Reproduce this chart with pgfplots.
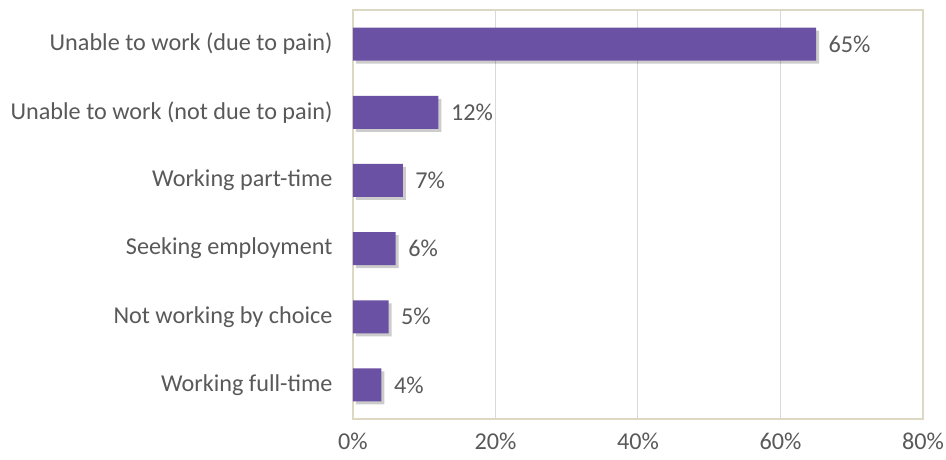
\documentclass[border=0pt]{standalone}
\usepackage{pgfplots}
\pgfplotsset{compat=1.18}
\usepackage{fontspec}
\setmainfont{Carlito}
\usetikzlibrary{shadows}
\definecolor{barcol}{HTML}{6A51A3}
\definecolor{txtcol}{HTML}{595959}
\definecolor{framecol}{HTML}{DDD8C4}
\definecolor{gridcol}{HTML}{D9D9D9}
\begin{document}
\begin{tikzpicture}[x=1pt,y=1pt]
\begin{axis}[
    at={(0,0)}, anchor=south west,
    scale only axis,
    width=570pt, height=409pt,
    xbar, bar width=33pt,
    xmin=0, xmax=80,
    ymin=-0.5, ymax=5.5,
    ytick={0,1,2,3,4,5},
    yticklabels={Working full-time, Not working by choice, Seeking employment, Working part-time, Unable to work (not due to pain), Unable to work (due to pain)},
    xtick={0,20,40,60,80},
    xticklabel={\pgfmathprintnumber{\tick}\%},
    /pgf/number format/assume math mode=true,
    xmajorgrids, grid style={gridcol, line width=1pt},
    major tick length=0pt,
    axis line style={framecol, line width=1.2pt},
    tick label style={font=\fontsize{24.2}{29}\selectfont, text=txtcol},
    yticklabel style={xshift=-17pt},
    xticklabel style={yshift=-10pt},
    nodes near coords={\pgfmathprintnumber{\pgfplotspointmeta}\%},
    nodes near coords style={font=\fontsize{24.2}{29}\selectfont, text=txtcol, anchor=west, xshift=9pt},
]
\addplot[fill=barcol, draw=none,
    drop shadow={shadow xshift=3pt, shadow yshift=-3pt, opacity=0.2, fill=black}]
    coordinates {(4,0) (5,1) (6,2) (7,3) (12,4) (65,5)};
\end{axis}
\pgfresetboundingbox
\path (-353pt,-40pt) rectangle (593pt,419pt);
\end{tikzpicture}
\end{document}
